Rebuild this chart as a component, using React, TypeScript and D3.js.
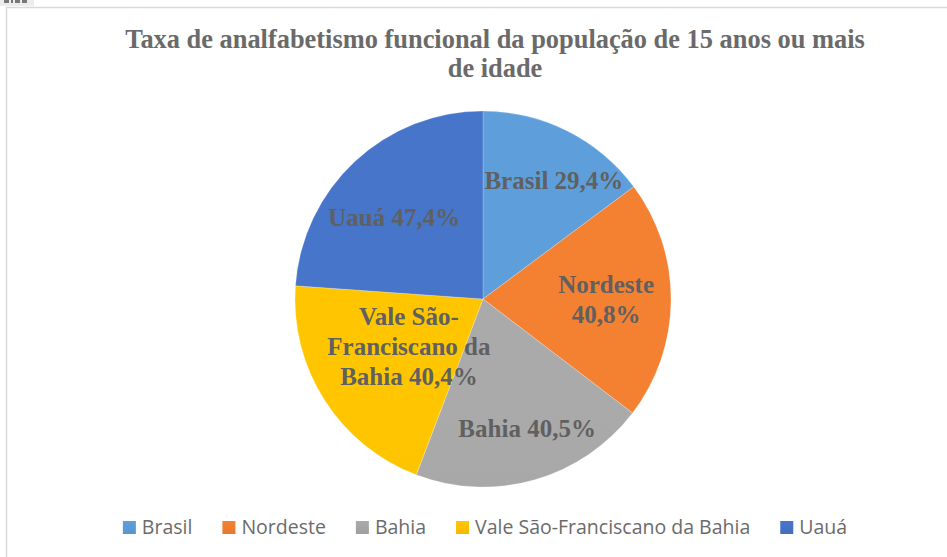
import React, { useEffect, useRef } from 'react';
import * as d3 from 'd3';

const categories = ['Brasil', 'Nordeste', 'Bahia', 'Vale São-Franciscano da Bahia', 'Uauá'];
const values = [29.4, 40.8, 40.5, 40.4, 47.4];
const labelLines = [
  ['Brasil 29,4%'],
  ['Nordeste', '40,8%'],
  ['Bahia 40,5%'],
  ['Vale São-', 'Franciscano da', 'Bahia 40,4%'],
  ['Uauá 47,4%'],
];
const colors = ['#5B9BD5', '#ED7D31', '#A5A5A5', '#FFC000', '#4472C4'];
const titleLines = ['Taxa de analfabetismo funcional da população de 15 anos ou mais', 'de idade'];

// label placement (Excel "best fit"): radius fraction & angular nudge (deg)
const labelRadius = [0.733, 0.655, 0.73, 0.47, 0.64];
const labelShift = [4.3, 0.2, -2.8, -0.4, -4.6];

const W = 947;
const H = 557;
const cx = 483;
const cy = 299;
const R = 188;

export default function App() {
  const ref = useRef<SVGSVGElement | null>(null);

  useEffect(() => {
    const svg = d3.select(ref.current);
    svg.selectAll('*').remove();

    const defs = svg.append('defs');

    // frame
    svg.append('rect').attr('width', W).attr('height', H).attr('fill', '#ffffff');
    svg.append('line').attr('x1', 6).attr('x2', W).attr('y1', 7.5).attr('y2', 7.5)
      .attr('stroke', '#d9d9d9').attr('stroke-width', 1.5);
    svg.append('line').attr('x1', 6.5).attr('x2', 6.5).attr('y1', 7).attr('y2', H)
      .attr('stroke', '#d9d9d9').attr('stroke-width', 1.5);

    // top-left cropped tab (only the bottom of its glyphs is visible)
    svg.append('rect').attr('x', 0).attr('y', 0).attr('width', 34).attr('height', 6).attr('fill', '#ececec');
    [4, 11, 15, 22].forEach((gx, k) => {
      svg.append('rect').attr('x', gx).attr('y', 0).attr('width', k === 1 ? 2 : 5).attr('height', 3)
        .attr('fill', '#777');
    });

    // title
    const title = svg.append('text')
      .attr('text-anchor', 'middle')
      .attr('font-family', '"Liberation Serif", "Times New Roman", serif')
      .attr('font-weight', 'bold')
      .attr('font-size', 26.4)
      .attr('fill', '#6a6a6a');
    titleLines.forEach((t, i) => {
      title.append('tspan').attr('x', 495).attr('y', 48 + i * 29).text(t);
    });

    // pie
    const pie = d3.pie<number>().sort(null).value((d) => d);
    const arcs = pie(values);
    const arc = d3.arc<d3.PieArcDatum<number>>().innerRadius(0).outerRadius(R);

    const mkGrad = (id: string, c: string, user: boolean) => {
      const g = defs.append('linearGradient').attr('id', id);
      if (user) {
        g.attr('gradientUnits', 'userSpaceOnUse')
          .attr('x1', 0).attr('y1', cy - R).attr('x2', 0).attr('y2', cy + R);
      } else {
        g.attr('x1', 0).attr('y1', 0).attr('x2', 0).attr('y2', 1);
      }
      g.append('stop').attr('offset', '0%').attr('stop-color', d3.color(c)!.brighter(0.08).formatHex());
      g.append('stop').attr('offset', '100%').attr('stop-color', d3.color(c)!.darker(0.1).formatHex());
    };
    colors.forEach((c, i) => {
      mkGrad(`grad${i}`, c, true);
      mkGrad(`lgrad${i}`, c, false);
    });

    const pg = svg.append('g').attr('transform', `translate(${cx},${cy})`);
    pg.selectAll('path').data(arcs).join('path')
      .attr('d', (d) => arc(d) as string)
      .attr('fill', (_d, i) => `url(#grad${i})`)
      .attr('stroke', '#ffffff')
      .attr('stroke-opacity', 0.35)
      .attr('stroke-width', 0.6);

    // labels
    const fs = 25;
    const lh = 30;
    arcs.forEach((d, i) => {
      const mid = (d.startAngle + d.endAngle) / 2 + (labelShift[i] * Math.PI) / 180;
      const r = R * labelRadius[i];
      const x = cx + r * Math.sin(mid);
      const y = cy - r * Math.cos(mid);
      const lines = labelLines[i];
      const t = svg.append('text')
        .attr('text-anchor', 'middle')
        .attr('font-family', '"Liberation Serif", "Times New Roman", serif')
        .attr('font-weight', 'bold')
        .attr('font-size', fs)
        .attr('fill', '#606060');
      lines.forEach((ln, j) => {
        t.append('tspan').attr('x', x)
          .attr('y', y - ((lines.length - 1) * lh) / 2 + j * lh + fs * 0.33)
          .text(ln);
      });
    });

    // legend
    const lg = svg.append('g');
    const sq = 13;
    const gapIn = 6;
    const gapOut = 30;
    const items = categories.map((c, i) => {
      const g = lg.append('g');
      g.append('rect').attr('width', sq).attr('height', sq).attr('y', 521)
        .attr('fill', `url(#lgrad${i})`);
      const txt = g.append('text').attr('x', sq + gapIn).attr('y', 534)
        .attr('font-family', '"Open Sans", "Noto Sans", sans-serif')
        .attr('font-size', 19.5)
        .attr('fill', '#6b6b6b')
        .text(c);
      const w = (txt.node() as SVGTextElement).getComputedTextLength();
      return { g, w: sq + gapIn + w };
    });
    const total = d3.sum(items, (d) => d.w) + gapOut * (items.length - 1);
    let x0 = 485 - total / 2;
    items.forEach((it) => {
      it.g.attr('transform', `translate(${x0},0)`);
      x0 += it.w + gapOut;
    });
  }, []);

  return (
    <svg
      ref={ref}
      width={W}
      height={H}
      style={{ position: 'absolute', left: 0, top: 0, display: 'block' }}
    />
  );
}
